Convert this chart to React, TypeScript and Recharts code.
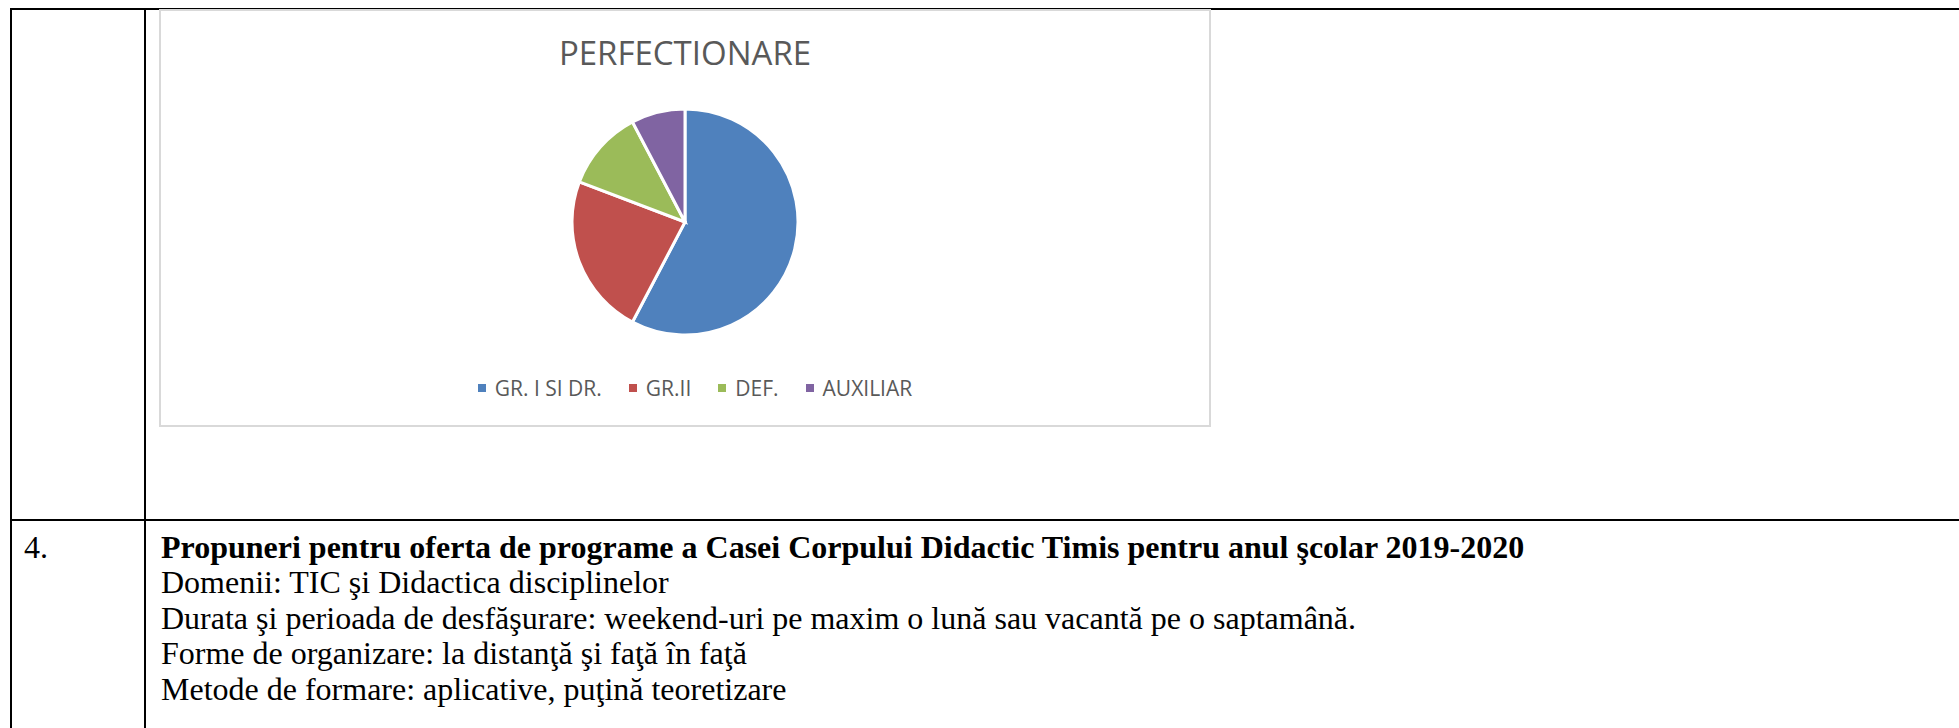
import { PieChart, Pie, Cell, Legend } from 'recharts';

const categories = ['GR. I SI DR.', 'GR.II', 'DEF.', 'AUXILIAR'];
const counts = [15, 6, 3, 2];
const sliceColors = ['#4F81BD', '#C0504D', '#9BBB59', '#8064A2'];

const chartTitle = 'PERFECTIONARE';
const rowNumber = '4.';
const headingLine =
  'Propuneri pentru oferta de programe a Casei Corpului Didactic Timis pentru anul şcolar 2019-2020';
const bodyLines = [
  'Domenii: TIC şi Didactica disciplinelor',
  'Durata şi perioada de desfăşurare: weekend-uri pe maxim o lună sau vacantă pe o saptamână.',
  'Forme de organizare: la distanţă şi faţă în faţă',
  'Metode de formare: aplicative, puţină teoretizare',
];

const data = categories.map((name, i) => ({ name, value: counts[i] }));

const sans = "'Open Sans', 'Noto Sans', sans-serif";
const serif = "'Liberation Serif', 'Times New Roman', serif";

function LegendContent() {
  return (
    <div
      style={{
        display: 'flex',
        justifyContent: 'center',
        alignItems: 'center',
        fontFamily: sans,
        fontSize: 21,
        lineHeight: '24px',
        color: '#595959',
      }}
    >
      {categories.map((name, i) => (
        <div
          key={name}
          style={{
            display: 'flex',
            alignItems: 'center',
            marginRight: i < categories.length - 1 ? 27 : 0,
          }}
        >
          <span
            style={{
              width: 8,
              height: 8,
              background: sliceColors[i],
              marginRight: 9,
              display: 'inline-block',
            }}
          />
          <span>{name}</span>
        </div>
      ))}
    </div>
  );
}

const rule = (style: React.CSSProperties) => (
  <div style={{ position: 'absolute', background: '#000', ...style }} />
);

export default function App() {
  return (
    <div
      style={{
        position: 'fixed',
        left: 0,
        top: 0,
        width: 1959,
        height: 728,
        background: '#fff',
        overflow: 'hidden',
      }}
    >
      {/* table rules */}
      {rule({ left: 10, top: 8, width: 1949, height: 2 })}
      {rule({ left: 10, top: 8, width: 2, height: 720 })}
      {rule({ left: 144, top: 8, width: 2, height: 720 })}
      {rule({ left: 10, top: 519, width: 1949, height: 2 })}

      {/* chart box */}
      <div
        style={{
          position: 'absolute',
          left: 159,
          top: 9,
          width: 1052,
          height: 418,
          boxSizing: 'border-box',
          border: '2px solid #d9d9d9',
          background: '#fff',
        }}
      >
        <div
          style={{
            position: 'absolute',
            left: 0,
            top: 19,
            width: 1048,
            textAlign: 'center',
            fontFamily: sans,
            fontSize: 33,
            lineHeight: 'normal',
            color: '#595959',
            zIndex: 2,
          }}
        >
          {chartTitle}
        </div>
        <PieChart width={1048} height={414} margin={{ top: 0, right: 0, bottom: 0, left: 0 }}>
          <Pie
            data={data}
            dataKey="value"
            nameKey="name"
            cx={524}
            cy={211}
            outerRadius={113}
            startAngle={90}
            endAngle={-270}
            stroke="#ffffff"
            strokeWidth={3}
            isAnimationActive={false}
          >
            {data.map((d, i) => (
              <Cell key={d.name} fill={sliceColors[i]} />
            ))}
          </Pie>
          <Legend
            content={<LegendContent />}
            wrapperStyle={{ top: 365, left: 10, width: 1048 }}
          />
        </PieChart>
      </div>

      {/* text row */}
      <div
        style={{
          position: 'absolute',
          left: 24,
          top: 530,
          fontFamily: serif,
          fontSize: 32,
          lineHeight: '35.4px',
          color: '#000',
        }}
      >
        {rowNumber}
      </div>
      <div
        style={{
          position: 'absolute',
          left: 161,
          top: 530,
          fontFamily: serif,
          fontSize: 32,
          lineHeight: '35.4px',
          color: '#000',
          whiteSpace: 'nowrap',
        }}
      >
        <div style={{ fontWeight: 'bold' }}>{headingLine}</div>
        {bodyLines.map((t) => (
          <div key={t}>{t}</div>
        ))}
      </div>
    </div>
  );
}
